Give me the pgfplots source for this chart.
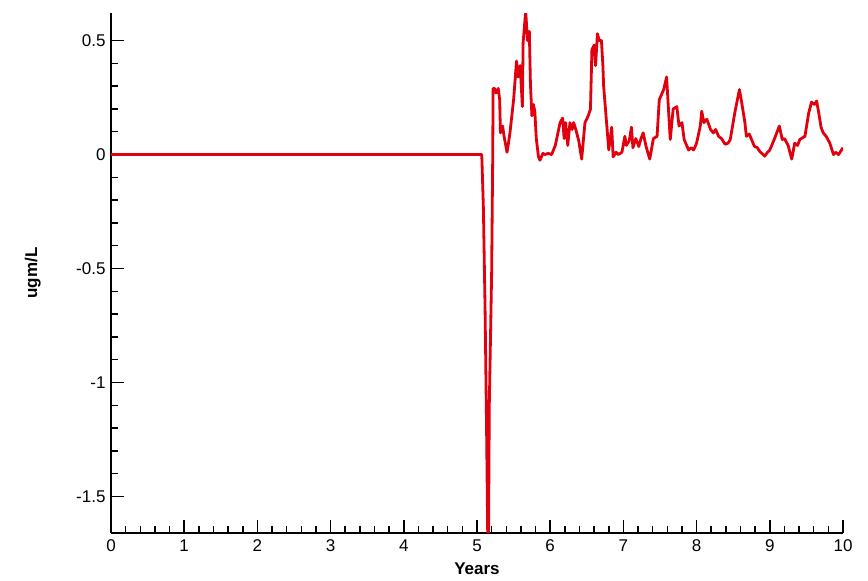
\documentclass[border=0pt]{standalone}
\usepackage{fontspec}
\setmainfont{Liberation Sans}
\usepackage{pgfplots}
\pgfplotsset{compat=1.18}
\definecolor{trace}{RGB}{224,0,14}

\begin{document}
\begin{tikzpicture}[x=1pt,y=1pt]
\useasboundingbox (-111,-48) rectangle (757,533);
\begin{axis}[
  at={(0,0)}, anchor=south west,
  scale only axis, width=732pt, height=519.8pt,
  xmin=0, xmax=10, ymin=-1.66, ymax=0.62,
  axis x line*=bottom, axis y line*=left,
  axis line style={line width=2pt,-},
  tick align=inside,
  major tick length=13pt, minor tick length=7pt,
  every tick/.style={black, line width=1.5pt},
  xtick={0,1,...,10}, ytick={-1.5,-1,-0.5,0,0.5},
  minor x tick num=4, minor y tick num=4,
  tick label style={font=\fontsize{17}{17}\selectfont},
  xticklabel style={yshift=-3pt},
  yticklabel style={xshift=-2pt},
  /pgf/number format/assume math mode=true,
  xlabel={Years}, ylabel={ugm/L},
  every axis x label/.style={at={(axis description cs:0.5,-0.069)}, anchor=center,
    font=\fontsize{17}{17}\selectfont\bfseries},
  every axis y label/.style={at={(axis description cs:-0.107,0.5)}, anchor=center, rotate=90,
    font=\fontsize{17}{17}\selectfont\bfseries},
]
\addplot[trace, line width=2.8pt, line join=round] coordinates {
(0,0) (5.065,0) (5.087,-0.23) (5.11,-0.67) (5.13,-1.18) (5.146,-1.66) (5.152,-1.75)
(5.158,-1.66) (5.168,-1.10) (5.20,-0.52) (5.215,0.0) (5.22,0.29)
(5.24,0.29) (5.26,0.27) (5.29,0.29) (5.31,0.24) (5.32,0.095) (5.35,0.125) (5.37,0.08)
(5.41,0.01) (5.43,0.05) (5.45,0.095) (5.50,0.24) (5.54,0.41) (5.56,0.34) (5.59,0.39)
(5.62,0.21) (5.63,0.49) (5.665,0.63) (5.69,0.50) (5.715,0.54) (5.73,0.31) (5.75,0.17)
(5.77,0.22) (5.79,0.19) (5.81,0.07) (5.84,-0.01) (5.86,-0.025) (5.90,0.005) (5.93,0.0)
(5.97,0.005) (6.02,0.0) (6.07,0.04) (6.135,0.14) (6.17,0.16) (6.19,0.07) (6.21,0.14)
(6.24,0.04) (6.27,0.14) (6.30,0.11) (6.32,0.14) (6.35,0.11) (6.39,0.06) (6.43,-0.02)
(6.475,0.14) (6.52,0.17) (6.55,0.20) (6.57,0.46) (6.60,0.48) (6.62,0.39) (6.645,0.53)
(6.67,0.50) (6.70,0.50) (6.72,0.39) (6.73,0.30) (6.77,0.14) (6.80,0.02) (6.84,0.12)
(6.86,-0.01) (6.90,0.01) (6.93,0.0) (6.98,0.01) (7.02,0.08) (7.04,0.04) (7.08,0.06)
(7.11,0.12) (7.13,0.03) (7.17,0.07) (7.21,0.035) (7.24,0.07) (7.27,0.095) (7.31,0.035)
(7.36,-0.02) (7.41,0.07) (7.46,0.08) (7.49,0.24) (7.55,0.285) (7.59,0.34) (7.61,0.23)
(7.64,0.066) (7.68,0.20) (7.73,0.21) (7.76,0.125) (7.80,0.14) (7.83,0.066) (7.89,0.02)
(7.93,0.03) (7.96,0.02) (8.00,0.05) (8.05,0.125) (8.07,0.19) (8.10,0.14) (8.14,0.155)
(8.19,0.11) (8.23,0.095) (8.26,0.11) (8.30,0.08) (8.34,0.07) (8.39,0.045) (8.43,0.05)
(8.46,0.066) (8.52,0.18) (8.585,0.285) (8.61,0.24) (8.66,0.14) (8.68,0.08) (8.72,0.09)
(8.75,0.066) (8.79,0.036) (8.83,0.03) (8.86,0.015) (8.93,-0.007) (8.97,0.01) (9.00,0.02)
(9.06,0.066) (9.13,0.125) (9.17,0.066) (9.20,0.07) (9.25,0.04) (9.30,-0.02) (9.34,0.05)
(9.38,0.04) (9.41,0.066) (9.48,0.08) (9.53,0.18) (9.57,0.23) (9.61,0.22) (9.64,0.235)
(9.67,0.18) (9.70,0.12) (9.73,0.095) (9.77,0.08) (9.82,0.05) (9.87,0.0) (9.90,0.01)
(9.94,0.0) (10.0,0.03)
};
\end{axis}
\end{tikzpicture}
\end{document}
